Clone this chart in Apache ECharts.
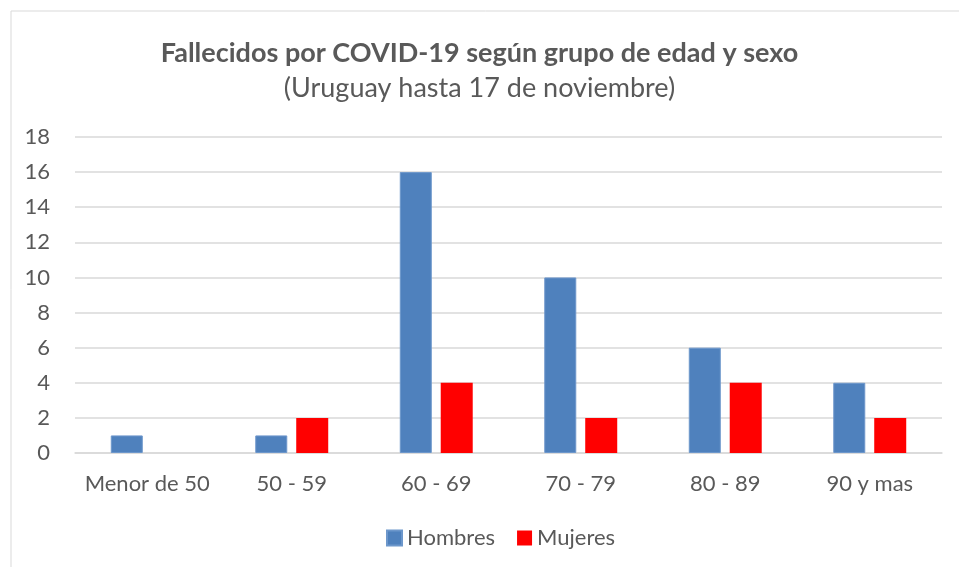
<!DOCTYPE html>
<html>
<head>
<meta charset="utf-8">
<script src="https://cdn.jsdelivr.net/npm/echarts@6/dist/echarts.min.js"></script>
<style>
html,body{margin:0;padding:0;background:#fff;}
#main{width:959px;height:567px;}
</style>
</head>
<body>
<div id="main"></div>
<script>
var categories = ['Menor de 50', '50 - 59', '60 - 69', '70 - 79', '80 - 89', '90 y mas'];
var hombres = [1, 1, 16, 10, 6, 4];
var mujeres = [0, 2, 4, 2, 4, 2];

var chart = echarts.init(document.getElementById('main'));
var font = 'Lato, "Open Sans", sans-serif';
var option = {
	backgroundColor: '#fff',
	textStyle: { fontFamily: font },
	graphic: [{
		type: 'rect',
		shape: { x: 11, y: 11, width: 1000, height: 600 },
		style: { fill: 'none', stroke: '#d9d9d9', lineWidth: 1 }
	}],
	title: {
		text: 'Fallecidos por COVID-19 según grupo de edad y sexo',
		subtext: '(Uruguay hasta 17 de noviembre)',
		left: 'center',
		top: 35,
		itemGap: 8,
		textStyle: { color: '#595959', fontSize: 27, fontWeight: 'bold', fontFamily: font },
		subtextStyle: { color: '#595959', fontSize: 27, fontFamily: font }
	},
	legend: {
		top: 522,
		left: 381,
		itemWidth: 15,
		itemHeight: 15,
		itemGap: 22,
		icon: 'rect',
		textStyle: { color: '#595959', fontSize: 22, fontFamily: font },
		data: ['Hombres', 'Mujeres']
	},
	grid: {
		left: 75,
		right: 17,
		top: 137,
		bottom: 114
	},
	xAxis: {
		type: 'category',
		data: categories,
		axisTick: { show: false },
		axisLine: { lineStyle: { color: '#d9d9d9', width: 1.5 } },
		axisLabel: { color: '#595959', fontSize: 22, margin: 20, interval: 0, fontFamily: font }
	},
	yAxis: {
		type: 'value',
		min: 0,
		max: 18,
		interval: 2,
		axisLine: { show: false },
		axisTick: { show: false },
		splitLine: { lineStyle: { color: '#d9d9d9', width: 1.5 } },
		axisLabel: { color: '#595959', fontSize: 22, margin: 25, fontFamily: font }
	},
	series: [{
		name: 'Hombres',
		type: 'bar',
		barWidth: 32,
		barGap: '28%',
		itemStyle: { color: '#4f81bd', borderColor: '#6d97cb', borderWidth: 1 },
		data: hombres
	}, {
		name: 'Mujeres',
		type: 'bar',
		barWidth: 32,
		itemStyle: { color: '#ff0000' },
		data: mujeres
	}]
};
chart.setOption(option);
</script>
</body>
</html>
